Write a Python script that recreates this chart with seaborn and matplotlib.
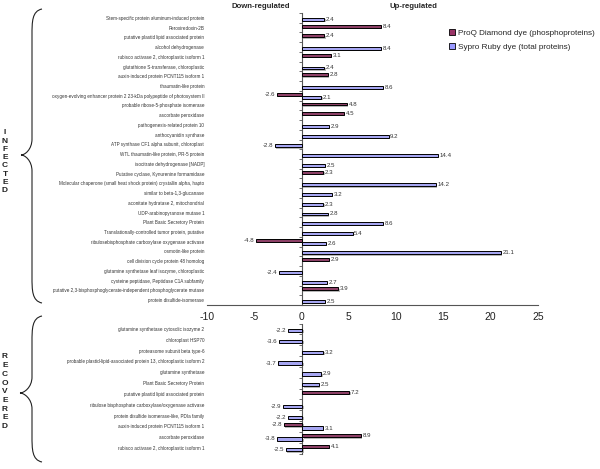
import numpy as np
import pandas as pd
import matplotlib
matplotlib.use("Agg")
import matplotlib.pyplot as plt
import matplotlib.patheffects as pe
from matplotlib.path import Path
from matplotlib.patches import PathPatch, Patch
import seaborn as sns

nan = np.nan

# ---------------- data ----------------
series_names = ["ProQ Diamond dye (phosphoproteins)", "Sypro Ruby dye (total proteins)"]
series_colors = ["#993366", "#9999FF"]

infected_labels = [
    "Stem-specific protein aluminum-induced protein",
    "Peroxiredoxin-2B",
    "putative plastid lipid associated protein",
    "alcohol dehydrogenase",
    "rubisco activase 2, chloroplastic isoform 1",
    "glutathione S-transferase, chloroplastic",
    "auxin-induced protein PCNT115 isoform 1",
    "thaumatin-like protein",
    "oxygen-evolving enhancer protein 2 23-kDa polypeptide of photosystem II",
    "probable ribose-5-phosphate isomerase",
    "ascorbate peroxidase",
    "pathogenesis-related protein 10",
    "anthocyanidin synthase",
    "ATP synthase CF1 alpha subunit, chloroplast",
    "WTL thaumatin-like protein, PR-5 protein",
    "isocitrate dehydrogenase [NADP]",
    "Putative cyclase, Kynurenine formamidase",
    "Molecular chaperone (small heat shock protein) crystallin alpha, hapto",
    "similar to beta-1,3-glucanase",
    "aconitate hydratase 2, mitochondrial",
    "UDP-arabinopyranose mutase 1",
    "Plant Basic Secretory Protein",
    "Translationally-controlled tumor protein, putative",
    "ribulosebisphosphate carboxylase oxygenase activase",
    "osmotin-like protein",
    "cell division cycle protein 48 homolog",
    "glutamine synthetase leaf isozyme, chloroplastic",
    "cysteine peptidase, Peptidase C1A subfamily",
    "putative 2,3-bisphosphoglycerate-independent phosphoglycerate mutase",
    "protein disulfide-isomerase",
]
infected_proq = [nan, 8.4, 2.4, nan, 3.1, nan, 2.8, nan, -2.6, 4.8,
                 4.5, nan, nan, nan, nan, nan, 2.3, nan, nan, nan,
                 nan, nan, nan, -4.8, nan, 2.9, nan, nan, 3.9, nan]
infected_sypro = [2.4, nan, nan, 8.4, nan, 2.4, nan, 8.6, 2.1, nan,
                  nan, 2.9, 9.2, -2.8, 14.4, 2.5, nan, 14.2, 3.2, 2.3,
                  2.8, 8.6, 5.4, 2.6, 21.1, nan, -2.4, 2.7, nan, 2.5]

recovered_labels = [
    "glutamine synthetase cytosolic isozyme 2",
    "chloroplast HSP70",
    "proteasome subunit beta type-6",
    "probable plastid-lipid-associated protein 13, chloroplastic isoform 2",
    "glutamine synthetase",
    "Plant Basic Secretory Protein",
    "putative plastid lipid associated protein",
    "ribulose bisphosphate carboxylase/oxygenase activase",
    "protein disulfide isomerase-like, PDIa family",
    "auxin-induced protein PCNT115 isoform 1",
    "ascorbate peroxidase",
    "rubisco activase 2, chloroplastic isoform 1",
]
recovered_proq = [nan, nan, nan, nan, nan, nan, 7.2, nan, nan, -2.8, 8.9, 4.1]
recovered_sypro = [-2.2, -3.6, 3.2, -3.7, 2.9, 2.5, nan, -2.9, -2.2, 3.1, -3.8, -2.5]

x_ticks = [-10, -5, 0, 5, 10, 15, 20, 25]


def long_df(labels, proq, sypro):
    rows = []
    for lab, p, s in zip(labels, proq, sypro):
        if not np.isnan(p):
            rows.append((lab, series_names[0], p))
        if not np.isnan(s):
            rows.append((lab, series_names[1], s))
    return pd.DataFrame(rows, columns=["protein", "dye", "value"])


# ---------------- style ----------------
sns.set_style("white")
plt.rcParams["font.family"] = ["Liberation Sans", "DejaVu Sans"]

W, H = 600, 469
fig = plt.figure(figsize=(6.0, 4.69), dpi=100)


def fx(x):
    return x / W


def fy(y):
    return 1 - y / H


AX_L, AX_R = 207, 538
ax_top = fig.add_axes([fx(AX_L), fy(305), fx(AX_R - AX_L), (305 - 13) / H])
ax_bot = fig.add_axes([fx(AX_L), fy(453.5), fx(AX_R - AX_L), (453.5 - 323.5) / H])

shadow = [pe.SimplePatchShadow(offset=(0.9, -0.9), shadow_rgbFace="#999999", alpha=0.7), pe.Normal()]


def draw_panel(ax, labels, proq, sypro, xlim):
    df = long_df(labels, proq, sypro)
    sns.barplot(data=df, y="protein", x="value", hue="dye", order=labels,
                hue_order=series_names, palette=series_colors, orient="h",
                width=0.6, edgecolor="black", linewidth=0.7, errorbar=None,
                legend=False, ax=ax)
    n = len(labels)
    ax.set_xlim(*xlim)
    ax.set_ylim(n - 0.5, -0.5)
    ax.set_xlabel("")
    ax.set_ylabel("")
    for p in ax.patches:
        p.set_path_effects(shadow)
    for c in ax.containers:
        ax.bar_label(c, fmt="%.1f", padding=1.2, fontsize=4.4, color="#333333")
    ax.set_yticks(range(n))
    ax.set_yticklabels(labels, fontsize=3.3, color="#333333")
    ax.tick_params(axis="y", length=0, pad=2)
    for s in ["left", "right", "top"]:
        ax.spines[s].set_visible(False)
    # vertical axis at zero with tick marks between categories
    loc = (0 - xlim[0]) / (xlim[1] - xlim[0])
    sec = ax.secondary_yaxis(loc)
    sec.set_yticks(np.arange(-0.5, n, 1.0))
    sec.set_yticklabels([])
    sec.tick_params(axis="y", length=2.5, width=0.6, color="#555555", direction="out")
    sec.spines["left"].set_color("#555555")
    sec.spines["left"].set_linewidth(0.8)
    ax.patch.set_alpha(0)
    return ax


draw_panel(ax_top, infected_labels, infected_proq, infected_sypro, (-10, 25))
ax_top.set_xticks(x_ticks)
ax_top.set_xticklabels([str(t) for t in x_ticks], fontsize=7.5, color="#222222")
ax_top.tick_params(axis="x", length=3, width=0.6, color="#555555", pad=2, direction="out")
ax_top.spines["bottom"].set_color("#555555")
ax_top.spines["bottom"].set_linewidth(0.8)

# recovered panel uses its own horizontal scale (zero aligned with the upper one)
draw_panel(ax_bot, recovered_labels, recovered_proq, recovered_sypro, (-14.55, 35.98))
ax_bot.spines["bottom"].set_visible(False)
ax_bot.xaxis.set_visible(False)

# headers
fig.text(fx(261), fy(6), "Down-regulated", fontsize=5.6, fontweight="bold",
         ha="center", va="center")
fig.text(fx(413), fy(6), "Up-regulated", fontsize=5.6, fontweight="bold",
         ha="center", va="center")

# legend
handles = [Patch(facecolor=c, edgecolor="black", linewidth=0.6) for c in series_colors]
fig.legend(handles, series_names, loc="upper left", bbox_to_anchor=(fx(449), fy(29)),
           frameon=False, fontsize=5.9, handlelength=0.75, handleheight=0.75,
           handletextpad=0.4, labelspacing=0.75, borderaxespad=0, borderpad=0)


# braces and group names
def brace(xe, xm, xt, yt, ytip, yb, r_end=26, r_tip=16):
    verts = [
        (xe, yt), (xm, yt + 2), (xm, yt + r_end * 0.5), (xm, yt + r_end),
        (xm, ytip - r_tip),
        (xm, ytip - r_tip * 0.35), (xt + 4, ytip), (xt, ytip),
        (xt + 4, ytip), (xm, ytip + r_tip * 0.35), (xm, ytip + r_tip),
        (xm, yb - r_end),
        (xm, yb - r_end * 0.5), (xm, yb - 2), (xe, yb),
    ]
    codes = [Path.MOVETO, Path.CURVE4, Path.CURVE4, Path.CURVE4,
             Path.LINETO,
             Path.CURVE4, Path.CURVE4, Path.CURVE4,
             Path.CURVE4, Path.CURVE4, Path.CURVE4,
             Path.LINETO,
             Path.CURVE4, Path.CURVE4, Path.CURVE4]
    verts = [(fx(x), fy(y)) for x, y in verts]
    fig.add_artist(PathPatch(Path(verts, codes), facecolor="none", edgecolor="#222222",
                             linewidth=0.8, transform=fig.transFigure))


brace(42, 32, 21, 9, 155, 303)
brace(42, 32, 20, 316, 393, 462)

for i, ch in enumerate("INFECTED"):
    fig.text(fx(5), fy(133 + 8.2 * i), ch, fontsize=6, fontweight="bold",
             ha="center", va="center", color="#222222")
for i, ch in enumerate("RECOVERED"):
    fig.text(fx(5), fy(357 + 8.7 * i), ch, fontsize=6, fontweight="bold",
             ha="center", va="center", color="#222222")

fig.savefig("out.png", dpi=100)
